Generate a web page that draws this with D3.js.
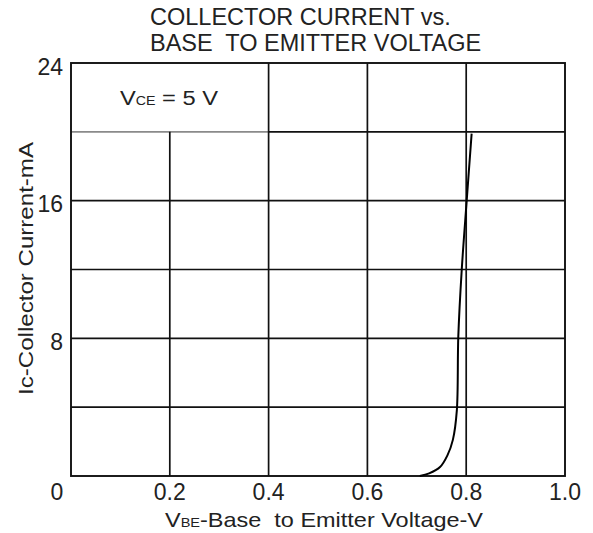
<!DOCTYPE html>
<html><head><meta charset="utf-8">
<script src="https://cdn.jsdelivr.net/npm/d3@7"></script>
<style>body{margin:0;background:#fff}svg{display:block}text{font-family:"Liberation Sans",Arial,sans-serif;fill:#222;white-space:pre}</style>
</head><body>
<svg id="c" width="593" height="533"></svg>
<script>
const titleLines = ["COLLECTOR CURRENT vs.", "BASE  TO EMITTER VOLTAGE"];
const xTicks = [0.2, 0.4, 0.6, 0.8, 1.0];
const xTickLabels = ["0.2", "0.4", "0.6", "0.8", "1.0"];
const yTicks = [24, 16, 8];
const yGrid = [4, 8, 12, 16, 20];
const xGrid = [0.2, 0.4, 0.6, 0.8];
const vbe = [0.706, 0.725, 0.747, 0.762, 0.773, 0.781, 0.784, 0.791, 0.801, 0.811];
const ic  = [0.0, 0.15, 0.52, 1.2, 2.1, 3.8, 8.1, 12.0, 16.0, 19.9];

const svg = d3.select("#c");
const L = 71, R = 565, T = 63, B = 476;
const x = d3.scaleLinear().domain([0, 1]).range([L, R]);
const y = d3.scaleLinear().domain([0, 24]).range([B, T]);

// grid
const g = svg.append("g");
yGrid.forEach(v => {
  g.append("line").attr("x1", v === 20 ? x(0.4) : x(0)).attr("x2", x(1))
    .attr("y1", y(v)).attr("y2", y(v))
    .attr("stroke", "#111").attr("stroke-width", 1.7);
});
g.append("line").attr("x1", x(0)).attr("x2", x(0.4)).attr("y1", y(20)).attr("y2", y(20))
  .attr("stroke", "#8a8a8a").attr("stroke-width", 1.8);
xGrid.forEach(v => {
  const top = v <= 0.2 ? y(20) : y(24);
  g.append("line").attr("x1", x(v)).attr("x2", x(v)).attr("y1", top).attr("y2", y(0))
    .attr("stroke", "#111").attr("stroke-width", 1.7);
});
g.append("rect").attr("x", L).attr("y", T).attr("width", R - L).attr("height", B - T)
  .attr("fill", "none").attr("stroke", "#111").attr("stroke-width", 1.9);

// curve
svg.append("path").datum(vbe).attr("d", d3.line()
    .x((d, i) => x(vbe[i])).y((d, i) => y(ic[i])).curve(d3.curveCatmullRom.alpha(0.5)))
  .attr("fill", "none").attr("stroke", "#000").attr("stroke-width", 2);

// tick labels
const fs = 23;
xTicks.forEach((v, i) => {
  svg.append("text").attr("x", x(v)).attr("y", 500).attr("text-anchor", "middle")
    .attr("font-size", fs).text(xTickLabels[i]);
});
svg.append("text").attr("x", 57).attr("y", 500).attr("text-anchor", "middle").attr("font-size", fs).text("0");
yTicks.forEach(v => {
  svg.append("text").attr("x", 63).attr("y", y(v) + 11.5).attr("text-anchor", "end")
    .attr("font-size", fs).text(String(v));
});

// titles
titleLines.forEach((t, i) => {
  svg.append("text").attr("x", 150).attr("y", 25 + i * 25.5)
    .attr("font-size", 23.5).text(t);
});

// x axis title
const xt = svg.append("text").attr("x", 165).attr("y", 527).attr("font-size", 21)
  .attr("textLength", 318).attr("lengthAdjust", "spacingAndGlyphs");
xt.append("tspan").text("V");
xt.append("tspan").attr("font-size", 13).text("BE");
xt.append("tspan").text("-Base  to Emitter Voltage-V");

// y axis title
svg.append("text").attr("transform", "translate(33,395) rotate(-90)")
  .attr("font-size", 21).attr("textLength", 253).attr("lengthAdjust", "spacingAndGlyphs")
  .text("Ic-Collector Current-mA");

// legend
const lg = svg.append("text").attr("x", 120).attr("y", 105).attr("font-size", 20)
  .attr("textLength", 98).attr("lengthAdjust", "spacingAndGlyphs");
lg.append("tspan").text("V");
lg.append("tspan").attr("font-size", 12).text("CE");
lg.append("tspan").text(" = 5 V");
</script>
</body></html>
